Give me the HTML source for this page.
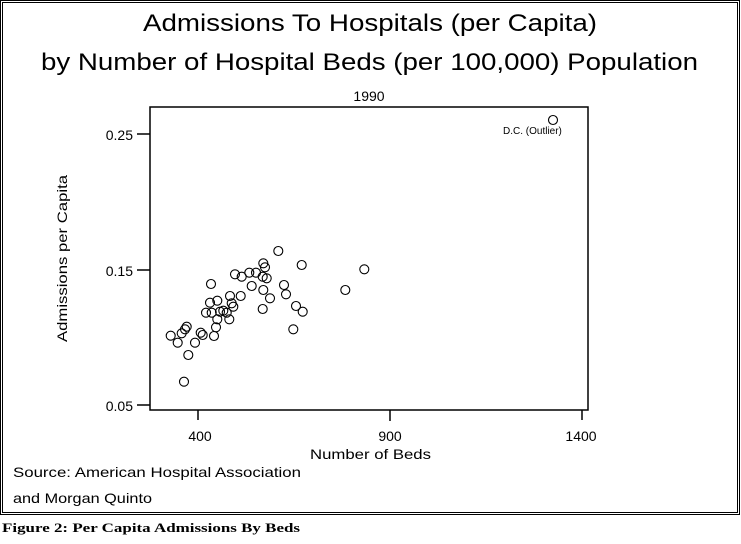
<!DOCTYPE html>
<html><head><meta charset="utf-8"><style>
html,body{margin:0;padding:0;background:#fff;}
svg text{font-family:"Liberation Sans",sans-serif;fill:#000;}
</style></head><body>
<svg width="741" height="539" xmlns="http://www.w3.org/2000/svg">
<rect x="0.5" y="0.5" width="739" height="514" fill="none" stroke="#000"/>
<rect x="2.5" y="2.5" width="735" height="510" fill="none" stroke="#000"/>
<text x="143" y="31" font-size="24" textLength="454" lengthAdjust="spacingAndGlyphs">Admissions To Hospitals (per Capita)</text>
<text x="41" y="70" font-size="24" textLength="657" lengthAdjust="spacingAndGlyphs">by Number of Hospital Beds (per 100,000) Population</text>
<text x="369" y="101" font-size="14" text-anchor="middle">1990</text>
<rect x="150" y="107" width="438" height="303" fill="none" stroke="#000" stroke-width="1.5"/>
<g stroke="#000" stroke-width="1.5">
<line x1="137" y1="134" x2="150" y2="134"/><line x1="137" y1="270" x2="150" y2="270"/><line x1="137" y1="405" x2="150" y2="405"/>
<line x1="198" y1="410" x2="198" y2="420"/><line x1="390" y1="410" x2="390" y2="421"/><line x1="582" y1="410" x2="582" y2="420"/>
</g>
<g font-size="14">
<text x="133" y="140" text-anchor="end">0.25</text>
<text x="133" y="276" text-anchor="end">0.15</text>
<text x="133" y="411" text-anchor="end">0.05</text>
<text x="200" y="441" text-anchor="middle">400</text>
<text x="390" y="441" text-anchor="middle">900</text>
<text x="581" y="441" text-anchor="middle">1400</text>
<text x="310" y="459" textLength="121" lengthAdjust="spacingAndGlyphs">Number of Beds</text>
<text x="13" y="477" textLength="288" lengthAdjust="spacingAndGlyphs">Source: American Hospital Association</text>
<text x="13" y="503" textLength="139" lengthAdjust="spacingAndGlyphs">and Morgan Quinto</text>
<text transform="translate(67,342) rotate(-90)" textLength="167" lengthAdjust="spacingAndGlyphs">Admissions per Capita</text>
</g>
<text x="503" y="134" font-size="10">D.C. (Outlier)</text>
<g fill="none" stroke="#000" stroke-width="1.1">
<circle cx="170.7" cy="335.7" r="4.5"/><circle cx="177.7" cy="342.7" r="4.5"/><circle cx="181.7" cy="333.3" r="4.5"/><circle cx="185" cy="329.3" r="4.5"/><circle cx="186.7" cy="326.7" r="4.5"/><circle cx="188.3" cy="355" r="4.5"/><circle cx="184" cy="381.7" r="4.5"/><circle cx="195" cy="342.7" r="4.5"/><circle cx="200.7" cy="332.7" r="4.5"/><circle cx="202.7" cy="335" r="4.5"/><circle cx="214" cy="336" r="4.5"/><circle cx="216" cy="327.3" r="4.5"/><circle cx="206" cy="312.7" r="4.5"/><circle cx="210" cy="302.7" r="4.5"/><circle cx="217.3" cy="300.7" r="4.5"/><circle cx="211" cy="284" r="4.5"/><circle cx="211.7" cy="312.7" r="4.5"/><circle cx="217.3" cy="319.3" r="4.5"/><circle cx="220" cy="311.7" r="4.5"/><circle cx="223.3" cy="310.7" r="4.5"/><circle cx="226.7" cy="312.7" r="4.5"/><circle cx="229.3" cy="319.3" r="4.5"/><circle cx="230" cy="296" r="4.5"/><circle cx="231.7" cy="303.3" r="4.5"/><circle cx="233.3" cy="306.7" r="4.5"/><circle cx="240.7" cy="296" r="4.5"/><circle cx="235" cy="274.3" r="4.5"/><circle cx="241.7" cy="276.7" r="4.5"/><circle cx="249.3" cy="272.7" r="4.5"/><circle cx="256" cy="272.7" r="4.5"/><circle cx="251.7" cy="286" r="4.5"/><circle cx="263.3" cy="263.3" r="4.5"/><circle cx="265" cy="267.3" r="4.5"/><circle cx="262.7" cy="276.7" r="4.5"/><circle cx="266.7" cy="278.3" r="4.5"/><circle cx="263.3" cy="290" r="4.5"/><circle cx="270" cy="298.3" r="4.5"/><circle cx="262.7" cy="309" r="4.5"/><circle cx="278.3" cy="251" r="4.5"/><circle cx="301.7" cy="265" r="4.5"/><circle cx="284" cy="285" r="4.5"/><circle cx="286" cy="294.3" r="4.5"/><circle cx="296" cy="306" r="4.5"/><circle cx="302.7" cy="311.7" r="4.5"/><circle cx="293.3" cy="329.3" r="4.5"/><circle cx="345.3" cy="290" r="4.5"/><circle cx="364.3" cy="269.3" r="4.5"/><circle cx="553" cy="120" r="4.5"/>
</g>
<text x="2" y="532" font-size="13" font-weight="bold" textLength="298" lengthAdjust="spacingAndGlyphs" style="font-family:'Liberation Serif',serif">Figure 2: Per Capita Admissions By Beds</text>
</svg>
</body></html>
